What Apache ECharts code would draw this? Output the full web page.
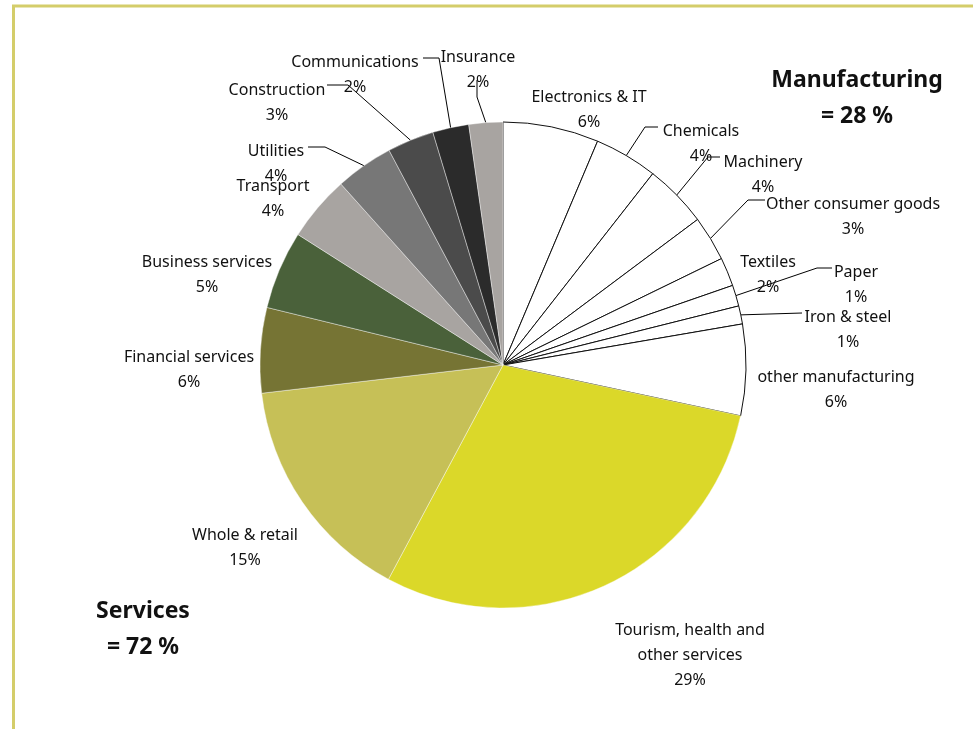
<!DOCTYPE html>
<html>
<head>
<meta charset="utf-8">
<script src="https://cdn.jsdelivr.net/npm/echarts@6/dist/echarts.min.js"></script>
<style>
  html, body { margin: 0; padding: 0; background: #fff; }
  #chart { width: 973px; height: 729px; }
</style>
</head>
<body>
<div id="chart"></div>
<script>
// Value added by sector, share of total (%), clockwise from 12 o'clock
const manufacturingNames = ['Electronics & IT', 'Chemicals', 'Machinery', 'Other consumer goods',
  'Textiles', 'Paper', 'Iron & steel', 'other manufacturing'];
const manufacturingValues = [6.35, 4.2, 4.2, 3.0, 1.9, 1.4, 1.2, 6.05];

const servicesNames = ['Tourism, health and\nother services', 'Whole & retail', 'Financial services',
  'Business services', 'Transport', 'Utilities', 'Construction', 'Communications', 'Insurance'];
const servicesValues = [29.4, 15.3, 5.65, 5.2, 4.35, 3.85, 3.1, 2.4, 2.25];

const serviceColors = ['#dbd829', '#c6c057', '#767434', '#4a613a', '#a8a4a1',
  '#777777', '#4b4b4b', '#2b2b2b', '#a8a4a1'];

// Label block centres, in drawing order
const labelCentres = [
  [589, 110], [701, 144], [763, 175], [853, 217], [768, 275], [856, 285], [848, 330], [836, 390],
  [690, 655], [245, 548], [189, 370], [207, 275], [273, 199], [276, 164], [277, 103], [355, 75], [478, 70]
];
// Leader line bends after the point on the rim (null = no leader)
const leaderBends = [
  null, [[645, 127], [658, 127]], [[708, 157], [720, 157]], [[748, 200], [765, 200]],
  null, [[817, 268], [832, 268]], [[802, 313]], null,
  null, null, null, null, null, [[325, 147], [308, 147]], [[348, 85], [327, 85]],
  [[439, 58], [423, 58]], [[477, 97], [477, 80]]
];

const sum = a => a.reduce((s, v) => s + v, 0);
const total = sum(manufacturingValues) + sum(servicesValues);
const manuShare = Math.round(sum(manufacturingValues) / total * 100);
const servShare = Math.round(sum(servicesValues) / total * 100);

const data = [];
manufacturingNames.forEach((n, i) => data.push({
  name: n, value: manufacturingValues[i],
  itemStyle: { color: '#ffffff', borderColor: '#111', borderWidth: 1 }
}));
servicesNames.forEach((n, i) => data.push({
  name: n, value: servicesValues[i],
  itemStyle: { color: serviceColors[i], borderColor: '#ffffff', borderWidth: 0.4 }
}));
data.forEach((d, i) => { d.labelLine = { show: !!leaderBends[i] }; });

const FONT = 'Noto Sans';
const chart = echarts.init(document.getElementById('chart'), null, { renderer: 'canvas' });

chart.setOption({
  animation: false,
  backgroundColor: '#ffffff',
  graphic: [
    { type: 'line', shape: { x1: 13.5, y1: 5, x2: 13.5, y2: 729 },
      style: { stroke: '#d4cd6a', lineWidth: 3 } },
    { type: 'line', shape: { x1: 12, y1: 6, x2: 973, y2: 6 },
      style: { stroke: '#d4cd6a', lineWidth: 3 } },
    { type: 'text', x: 857, y: 98,
      style: { text: 'Manufacturing\n= ' + manuShare + ' %', fill: '#111', font: 'bold 23px "' + FONT + '"',
        lineHeight: 36, align: 'center', verticalAlign: 'middle' } },
    { type: 'text', x: 143, y: 629,
      style: { text: 'Services\n= ' + servShare + ' %', fill: '#111', font: 'bold 23px "' + FONT + '"',
        lineHeight: 36, align: 'center', verticalAlign: 'middle' } }
  ],
  series: [{
    type: 'pie',
    center: [503, 365],
    radius: [0, 243],
    startAngle: 90,
    clockwise: true,
    avoidLabelOverlap: false,
    data: data,
    label: {
      show: true,
      position: 'outside',
      color: '#111',
      fontFamily: FONT,
      fontSize: 16,
      lineHeight: 25,
      align: 'center',
      formatter: p => p.name + '\n' + Math.round(p.percent) + '%'
    },
    labelLine: { show: true, lineStyle: { color: '#000', width: 1 }, smooth: false },
    labelLayout: function (params) {
      const i = params.dataIndex;
      const c = labelCentres[i];
      const out = { x: c[0], y: c[1], align: 'center', verticalAlign: 'middle' };
      const bends = leaderBends[i];
      if (bends && params.labelLinePoints) {
        out.labelLinePoints = [params.labelLinePoints[0]].concat(bends);
      }
      return out;
    },
    emphasis: { disabled: true }
  }]
});
</script>
</body>
</html>
